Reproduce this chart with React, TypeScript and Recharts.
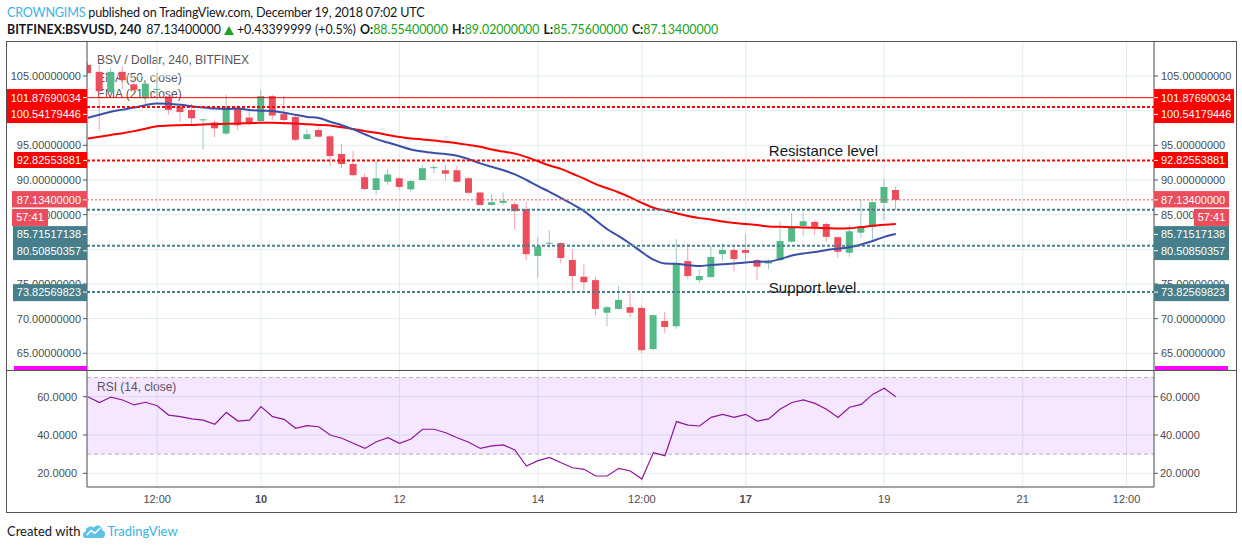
import React from "react";
import {
  Bar,
  CartesianGrid,
  ComposedChart,
  Line,
  ReferenceArea,
  ReferenceDot,
  ReferenceLine,
  XAxis,
  YAxis,
} from "recharts";

// BSV/USD 4h candles, Dec 7 12:00 -> Dec 19 04:00 (UTC)
const OPEN = [
  106.6, 105.6, 102.7, 105.6, 103.8, 101.8, 103.0, 102.0, 100.6, 100.1,
  98.6, 98.3, 96.7, 100.4, 99.0, 98.5, 102.1, 99.5, 99.1, 95.9,
  97.2, 96.3, 93.75, 92.3, 90.4, 88.55, 89.75, 90.25, 88.65, 90.0,
  91.7, 91.4, 91.4, 90.25, 88.2, 86.4, 86.7, 86.5, 85.8, 79.05,
  80.85, 80.9, 78.45, 76.05, 75.55, 70.85, 71.4, 71.65, 71.55, 65.6,
  69.65, 68.9, 78.3, 75.55, 76.0, 79.3, 79.9, 79.9, 78.45, 77.95,
  78.45, 81.1, 83.35, 83.95, 83.65, 81.75, 79.5, 82.4, 83.25, 86.7,
  88.554,
];
const HIGH = [
  107.0, 106.6, 106.2, 106.4, 104.6, 104.2, 104.3, 102.5, 101.0, 101.0,
  98.8, 98.6, 102.3, 100.8, 100.1, 103.0, 102.3, 102.1, 99.3, 97.3,
  97.6, 96.5, 95.2, 94.2, 90.9, 92.8, 91.6, 90.4, 90.0, 92.2,
  92.2, 92.2, 92.0, 90.4, 88.3, 87.95, 88.2, 86.85, 86.85, 81.8,
  82.7, 81.0, 80.0, 77.9, 76.05, 71.8, 74.7, 73.95, 71.95, 70.6,
  71.0, 81.5, 80.85, 77.0, 80.5, 80.85, 80.4, 82.2, 78.6, 78.55,
  84.05, 85.25, 85.25, 84.2, 83.8, 81.9, 83.5, 87.2, 86.9, 90.15,
  89.02,
];
const LOW = [
  105.2, 97.1, 102.4, 103.1, 102.5, 100.3, 101.6, 99.4, 98.4, 97.8,
  94.4, 96.2, 96.5, 97.2, 97.9, 98.3, 98.7, 98.4, 95.6, 95.8,
  96.1, 92.0, 91.7, 90.5, 88.6, 87.8, 89.3, 88.6, 88.2, 89.9,
  91.0, 89.9, 89.6, 88.0, 86.3, 86.3, 86.4, 82.9, 78.45, 75.9,
  80.15, 78.0, 74.1, 74.1, 70.5, 68.9, 71.3, 70.25, 65.05, 65.5,
  67.95, 68.5, 75.7, 75.15, 75.9, 78.35, 76.85, 78.0, 75.55, 77.1,
  78.4, 81.0, 81.95, 82.05, 81.1, 78.8, 78.95, 81.65, 81.25, 84.2,
  85.756,
];
const CLOSE = [
  105.4, 102.8, 105.6, 104.4, 103.0, 103.9, 103.15, 100.1, 99.8, 98.9,
  98.75, 97.45, 100.6, 97.9, 98.2, 102.1, 99.3, 98.65, 95.8, 96.6,
  96.25, 93.45, 92.3, 90.7, 88.7, 90.25, 90.8, 89.0, 89.85, 91.7,
  91.85, 90.9, 89.75, 88.15, 86.4, 86.8, 87.0, 85.5, 79.3, 80.4,
  80.95, 78.75, 76.15, 75.25, 71.4, 71.65, 72.7, 70.85, 65.45, 70.5,
  68.8, 77.95, 76.15, 76.15, 78.9, 79.9, 78.6, 79.5, 77.5, 78.2,
  81.2, 83.15, 84.05, 83.25, 81.8, 79.65, 82.6, 83.35, 86.8, 89.0,
  87.134,
];
const EMA21 = [
  98.98, 99.4, 99.85, 100.15, 100.45, 100.8, 101.05, 101.0, 100.85, 100.65,
  100.45, 100.3, 100.25, 100.3, 100.1, 100.0, 99.95, 99.7, 99.4, 99.1,
  98.95, 98.4, 97.9, 97.3, 96.6, 95.9, 95.4, 94.9, 94.4, 94.1,
  93.9, 93.75, 93.5, 93.0, 92.4, 91.9, 91.4, 90.8, 90.0, 89.1,
  88.3, 87.4, 86.5, 85.5, 84.2, 82.9, 81.9, 80.8, 79.6, 78.5,
  77.95, 77.9, 77.7, 77.6, 77.75, 77.85, 77.95, 78.1, 78.2, 78.25,
  78.6, 79.1, 79.4, 79.6, 79.9, 80.1, 80.3, 80.7, 81.2, 81.8,
  82.2,
];
const EMA50 = [
  96.0, 96.25, 96.5, 96.75, 97.05, 97.4, 97.75, 97.85, 97.9, 97.95,
  98.0, 98.05, 98.1, 98.15, 98.2, 98.25, 98.25, 98.2, 98.15, 98.05,
  97.95, 97.85, 97.6, 97.35, 97.05, 96.8, 96.5, 96.2, 96.0, 95.85,
  95.7, 95.5, 95.3, 95.05, 94.8, 94.4, 94.1, 93.8, 93.3, 92.7,
  92.1, 91.6, 90.9, 90.2, 89.4, 88.8, 88.2, 87.5, 86.7, 86.0,
  85.6, 85.2, 84.8, 84.5, 84.3, 84.0, 83.8, 83.65, 83.5, 83.3,
  83.25, 83.2, 83.15, 83.1, 83.05, 83.0, 83.05, 83.2, 83.4, 83.55,
  83.65,
];
const RSI = [
  60.0, 56.9, 59.8, 58.3, 55.7, 57.1, 55.3, 50.4, 49.6, 48.4,
  47.8, 45.6, 51.8, 47.3, 47.8, 54.8, 49.6, 48.2, 43.5, 44.9,
  44.3, 40.0, 38.3, 35.7, 33.0, 36.5, 38.6, 35.7, 37.9, 43.0,
  43.0, 41.2, 38.6, 36.2, 33.0, 34.3, 34.8, 32.2, 23.8, 26.6,
  28.3, 25.5, 22.9, 22.1, 18.6, 18.6, 22.6, 21.2, 17.0, 30.8,
  29.2, 47.0, 45.2, 44.7, 49.2, 50.8, 49.2, 50.8, 47.3, 48.4,
  53.6, 57.0, 58.3, 56.5, 53.4, 49.2, 54.5, 56.0, 61.2, 64.4,
  60.0,
];

// hours since Dec 8 00:00, one candle every 4h
const HOURS = OPEN.map((_, i) => -12 + 4 * i);

const X_DOMAIN = [-12.31, 357.5];
const X_TICKS = [12, 48, 96, 144, 180, 216, 264, 312, 348];
const X_LABELS = ["12:00", "10", "12", "14", "12:00", "17", "19", "21", "12:00"];
const BOLD_LABELS = ["10", "17"];

const PRICE_DOMAIN = [62.59, 110.05];
const PRICE_TICKS = [65, 70, 75, 80, 85, 90, 95, 100, 105];
const RSI_DOMAIN = [12.85, 73.94];
const RSI_TICKS = [20, 40, 60];

// drawn levels
const TOP_LINE = 101.87690034;
const UPPER_LINE = 100.54179446;
const RESISTANCE = 92.82553881;
const LAST_PRICE = 87.134;
const TEAL_HIGH = 85.71517138;
const TEAL_MID = 80.50850357;
const SUPPORT = 73.82569823;

const ANNOTATIONS = [
  { t: 224, price: 94.18, text: "Resistance level" },
  { t: 224, price: 74.42, text: "Support level" },
];

const FONT = '"Liberation Sans", Arial, sans-serif';
const HEAD_FONT = 'Lato, "Liberation Sans", sans-serif';
const UP = "#53b987";
const DOWN = "#eb4d5c";
const WICK_UP = "#9fc6cb";
const WICK_DOWN = "#f3a0aa";
const GRID = "#e1ecf2";
const AXIS = "#555555";
const TICK = "#4c4c4c";
const RED = "#ff0000";
const TEAL = "#467f8b";
const GREEN_TXT = "#21a121";

const rows = HOURS.map((t, i) => ({
  t,
  range: [LOW[i], HIGH[i]],
  o: OPEN[i],
  h: HIGH[i],
  l: LOW[i],
  c: CLOSE[i],
  ema21: EMA21[i],
  ema50: EMA50[i],
  rsi: RSI[i],
}));

function Candle(props: any) {
  const { x, y, width, height, payload } = props;
  if (!payload || width == null) return null;
  const top = Math.min(y, y + height);
  const ht = Math.abs(height);
  const { o, c, h, l } = payload;
  const up = c >= o;
  const py = (v: number) => top + ((h - v) / (h - l)) * ht;
  const b0 = py(Math.max(o, c));
  const b1 = py(Math.min(o, c));
  const cx = x + width / 2;
  return (
    <g>
      <line x1={cx} x2={cx} y1={top} y2={top + ht} stroke={up ? WICK_UP : WICK_DOWN} strokeWidth={1} />
      <rect x={x} y={b0} width={width} height={Math.max(1, b1 - b0)} fill={up ? UP : DOWN} />
    </g>
  );
}

type TagText = { s: string; dy: number };
type TagSpec = {
  price: number;
  fill: string;
  top: number;
  bottom: number;
  lw: number;
  rw: number;
  texts: TagText[];
  timer?: string;
};

const TAGS: TagSpec[] = [
  {
    price: TOP_LINE,
    fill: RED,
    top: -8.6,
    bottom: 25.4,
    lw: 80,
    rw: 80,
    texts: [
      { s: "101.87690034", dy: 0 },
      { s: "100.54179446", dy: 16.7 },
    ],
  },
  { price: RESISTANCE, fill: RED, top: -8.4, bottom: 7.6, lw: 73, rw: 74, texts: [{ s: "92.82553881", dy: 0 }] },
  {
    price: LAST_PRICE,
    fill: DOWN,
    top: -8.8,
    bottom: 7.6,
    lw: 75,
    rw: 75,
    texts: [{ s: "87.13400000", dy: 0 }],
    timer: "57:41",
  },
  {
    price: TEAL_HIGH,
    fill: TEAL,
    top: 16.4,
    bottom: 50.4,
    lw: 74,
    rw: 75,
    texts: [
      { s: "85.71517138", dy: 24.7 },
      { s: "80.50850357", dy: 41.1 },
    ],
  },
  { price: SUPPORT, fill: TEAL, top: -8, bottom: 9, lw: 74, rw: 75, texts: [{ s: "73.82569823", dy: 0 }] },
];

// price tags on both axes, positioned from the line the library placed
function tagLabel(spec: TagSpec) {
  return function TagLabel(props: any) {
    const vb = props.viewBox;
    if (!vb) return null;
    const y = vb.y;
    const x0 = vb.x;
    const x1 = vb.x + vb.width;
    const h = spec.bottom - spec.top;
    return (
      <g fontFamily={FONT} fontSize={11}>
        <rect x={x0 - spec.lw} y={y + spec.top} width={spec.lw} height={h} fill={spec.fill} />
        <rect x={x1} y={y + spec.top} width={spec.rw} height={h} fill={spec.fill} />
        {spec.texts.map((tt) => (
          <g key={tt.s}>
            <line x1={x0 - 4} x2={x0} y1={y + tt.dy} y2={y + tt.dy} stroke="#fff" />
            <line x1={x1} x2={x1 + 4} y1={y + tt.dy} y2={y + tt.dy} stroke="#fff" />
            <text x={x0 - 6} y={y + tt.dy} dy="0.36em" textAnchor="end" fill="#fff">
              {tt.s}
            </text>
            <text x={x1 + 7} y={y + tt.dy} dy="0.36em" textAnchor="start" fill="#fff">
              {tt.s}
            </text>
          </g>
        ))}
        {spec.timer && (
          <g>
            <rect x={x0 - spec.lw} y={y + spec.bottom + 1.5} width={36} height={17} fill={spec.fill} />
            <rect x={x1 + spec.rw - 35} y={y + spec.bottom + 1.5} width={35} height={17} fill={spec.fill} />
            <text x={x0 - spec.lw + 18} y={y + spec.bottom + 10} dy="0.36em" textAnchor="middle" fill="#fff">
              {spec.timer}
            </text>
            <text x={x1 + spec.rw - 17.5} y={y + spec.bottom + 10} dy="0.36em" textAnchor="middle" fill="#fff">
              {spec.timer}
            </text>
          </g>
        )}
      </g>
    );
  };
}

function noteLabel(text: string) {
  return function NoteLabel(props: any) {
    const vb = props.viewBox;
    if (!vb) return null;
    return (
      <text x={vb.x} y={vb.y} dy="0.36em" fill="#131722" fontSize={15} fontFamily={FONT}>
        {text}
      </text>
    );
  };
}

function TimeTick(props: any) {
  const { x, y, payload } = props;
  const i = X_TICKS.indexOf(payload.value);
  const label = X_LABELS[i] ?? "";
  return (
    <text
      x={x}
      y={y}
      dy="0.71em"
      textAnchor="middle"
      fill={TICK}
      fontSize={11}
      fontFamily={FONT}
      fontWeight={BOLD_LABELS.includes(label) ? 700 : 400}
    >
      {label}
    </text>
  );
}

const tickStyle = { fill: TICK, fontSize: 11, fontFamily: FONT };

function PriceChart() {
  return (
    <ComposedChart width={1230} height={329} data={rows} margin={{ top: 0, right: 0, bottom: 0, left: 0 }}>
      <CartesianGrid yAxisId="l" stroke={GRID} />
      <XAxis dataKey="t" type="number" domain={X_DOMAIN} ticks={X_TICKS} hide allowDataOverflow />
      <YAxis
        yAxisId="l"
        orientation="left"
        width={81}
        domain={PRICE_DOMAIN}
        ticks={PRICE_TICKS}
        allowDataOverflow
        tickFormatter={(v: number) => v.toFixed(8)}
        tick={tickStyle}
        tickSize={4}
        tickMargin={2}
        tickLine={{ stroke: AXIS }}
        axisLine={{ stroke: AXIS }}
        interval={0}
      />
      <YAxis
        yAxisId="r"
        orientation="right"
        width={82}
        domain={PRICE_DOMAIN}
        ticks={PRICE_TICKS}
        allowDataOverflow
        tickFormatter={(v: number) => v.toFixed(8)}
        tick={tickStyle}
        tickSize={4}
        tickMargin={3}
        tickLine={{ stroke: AXIS }}
        axisLine={{ stroke: AXIS }}
        interval={0}
      />
      <Bar yAxisId="l" dataKey="range" barSize={7} shape={Candle} isAnimationActive={false} />
      <Line yAxisId="l" type="monotone" dataKey="ema50" stroke={RED} strokeWidth={2} dot={false} isAnimationActive={false} />
      <Line yAxisId="l" type="monotone" dataKey="ema21" stroke="#3c4fa8" strokeWidth={2} dot={false} isAnimationActive={false} />

      <ReferenceLine yAxisId="l" y={TOP_LINE} stroke={RED} strokeWidth={1} />
      <ReferenceLine yAxisId="l" y={UPPER_LINE} stroke={RED} strokeWidth={2} strokeDasharray="3 2" />
      <ReferenceLine yAxisId="l" y={RESISTANCE} stroke={RED} strokeWidth={2} strokeDasharray="3 2" />
      <ReferenceLine yAxisId="l" y={LAST_PRICE} stroke={DOWN} strokeWidth={1} strokeDasharray="2 2" />
      <ReferenceLine yAxisId="l" y={TEAL_HIGH} stroke={TEAL} strokeWidth={2} strokeDasharray="3 2" />
      <ReferenceLine yAxisId="l" y={TEAL_MID} stroke={TEAL} strokeWidth={2} strokeDasharray="3 2" />
      <ReferenceLine yAxisId="l" y={SUPPORT} stroke={TEAL} strokeWidth={2} strokeDasharray="3 2" />
      {ANNOTATIONS.map((a) => (
        <ReferenceDot
          key={a.text}
          yAxisId="l"
          x={a.t}
          y={a.price}
          r={0}
          fill="none"
          stroke="none"
          label={noteLabel(a.text)}
        />
      ))}
    </ComposedChart>
  );
}

// second layer on the same scales, so the axis tags cover the tick labels
function TagLayer() {
  return (
    <ComposedChart width={1230} height={329} data={rows} margin={{ top: 0, right: 0, bottom: 0, left: 0 }}>
      <XAxis dataKey="t" type="number" domain={X_DOMAIN} hide allowDataOverflow />
      <YAxis yAxisId="l" orientation="left" width={81} domain={PRICE_DOMAIN} allowDataOverflow tick={false} tickLine={false} axisLine={false} />
      <YAxis yAxisId="r" orientation="right" width={82} domain={PRICE_DOMAIN} allowDataOverflow tick={false} tickLine={false} axisLine={false} />
      {TAGS.map((tag) => (
        <ReferenceLine key={tag.price} yAxisId="l" y={tag.price} stroke="none" label={tagLabel(tag)} />
      ))}
    </ComposedChart>
  );
}

function RsiChart() {
  return (
    <ComposedChart width={1230} height={142} data={rows} margin={{ top: 0, right: 0, bottom: 0, left: 0 }}>
      <CartesianGrid yAxisId="l" stroke={GRID} />
      <XAxis
        dataKey="t"
        type="number"
        domain={X_DOMAIN}
        ticks={X_TICKS}
        allowDataOverflow
        height={25}
        interval={0}
        tick={TimeTick}
        tickLine={false}
        tickSize={0}
        tickMargin={8}
        axisLine={{ stroke: AXIS }}
      />
      <YAxis
        yAxisId="l"
        orientation="left"
        width={81}
        domain={RSI_DOMAIN}
        ticks={RSI_TICKS}
        allowDataOverflow
        tickFormatter={(v: number) => v.toFixed(4)}
        tick={tickStyle}
        tickSize={4}
        tickMargin={6}
        tickLine={{ stroke: AXIS }}
        axisLine={{ stroke: AXIS }}
        interval={0}
      />
      <YAxis
        yAxisId="r"
        orientation="right"
        width={82}
        domain={RSI_DOMAIN}
        ticks={RSI_TICKS}
        allowDataOverflow
        tickFormatter={(v: number) => v.toFixed(4)}
        tick={tickStyle}
        tickSize={4}
        tickMargin={2}
        tickLine={{ stroke: AXIS }}
        axisLine={{ stroke: AXIS }}
        interval={0}
      />
      <ReferenceArea yAxisId="l" y1={30} y2={70} fill="#9915ff" fillOpacity={0.1} stroke="none" />
      <ReferenceLine yAxisId="l" y={70} stroke="#b9b1c0" strokeDasharray="4 3" />
      <ReferenceLine yAxisId="l" y={30} stroke="#b9b1c0" strokeDasharray="4 3" />
      <Line yAxisId="l" type="linear" dataKey="rsi" stroke="#8e1599" strokeWidth={1.2} dot={false} isAnimationActive={false} />
    </ComposedChart>
  );
}

const abs = (left: number, top: number, extra: React.CSSProperties = {}): React.CSSProperties => ({
  position: "absolute",
  left,
  top,
  ...extra,
});

export default function App() {
  const legend: React.CSSProperties = { fontFamily: FONT, fontSize: 12, color: "#555", lineHeight: "14px", whiteSpace: "nowrap" };
  const head: React.CSSProperties = { fontFamily: HEAD_FONT, fontSize: 12.4, lineHeight: "17px", color: "#131722", whiteSpace: "nowrap" };
  return (
    <div style={{ position: "absolute", left: 0, top: 0, width: 1242, height: 549, background: "#fff", overflow: "hidden" }}>
      {/* header */}
      <div style={abs(7, 4, { ...head, fontSize: 12.6, letterSpacing: "-0.2px" })}>
        <span style={{ color: "#3bb3e4" }}>CROWNGIMS</span> published on TradingView.com, December 19, 2018 07:02 UTC
      </div>
      <div style={abs(7, 21, head)}>
        <b>BITFINEX:BSVUSD, 240</b>
        <span style={{ marginLeft: 5 }}>87.13400000</span>
        <svg width="10" height="9" style={{ marginLeft: 3, marginRight: 3, verticalAlign: "-1px" }}>
          <polygon points="5,0 10,9 0,9" fill={GREEN_TXT} />
        </svg>
        <span>+0.43399999 (+0.5%)</span>
        <b style={{ marginLeft: 4 }}>O:</b>
        <span style={{ color: GREEN_TXT }}>88.55400000</span>
        <b style={{ marginLeft: 4 }}>H:</b>
        <span style={{ color: GREEN_TXT }}>89.02000000</span>
        <b style={{ marginLeft: 4 }}>L:</b>
        <span style={{ color: GREEN_TXT }}>85.75600000</span>
        <b style={{ marginLeft: 4 }}>C:</b>
        <span style={{ color: GREEN_TXT }}>87.13400000</span>
      </div>

      {/* pane legends (under the series) */}
      <div style={abs(97, 53, legend)}>BSV / Dollar, 240, BITFINEX</div>
      <div style={abs(97, 71, legend)}>EMA (50, close)</div>
      <div style={abs(97, 87, legend)}>EMA (21, close)</div>
      <div style={abs(97, 380, legend)}>RSI (14, close)</div>

      <div style={abs(6, 41)}>
        <PriceChart />
      </div>
      <div style={abs(6, 41)}>
        <TagLayer />
      </div>
      <div style={abs(6, 370)}>
        <RsiChart />
      </div>

      {/* frame */}
      <div style={abs(6, 41, { width: 1231, height: 472, border: `1px solid ${AXIS}`, boxSizing: "border-box", pointerEvents: "none" })} />
      <div style={abs(6, 370, { width: 1231, height: 1, background: AXIS })} />
      <div style={abs(14, 366, { width: 73, height: 4, background: "#ff00ff" })} />
      <div style={abs(1155, 366, { width: 73, height: 4, background: "#ff00ff" })} />

      {/* footer */}
      <div style={abs(7, 522, { fontFamily: HEAD_FONT, fontSize: 13, lineHeight: "18px", color: "#131722", whiteSpace: "nowrap", display: "flex", alignItems: "center" })}>
        <span>Created with</span>
        <svg width="24" height="17" viewBox="0 0 26 18" style={{ marginLeft: 2, marginRight: 1 }}>
          <path d="M4 16 C0 16 0 10 4 9 C4 4 10 2 13 5 C15 1 22 2 22 8 C26 8 26 16 22 16 Z" fill="#5fc0e8" />
          <path d="M5 13 L10 8 L14 11 L20 5" stroke="#fff" strokeWidth="1.6" fill="none" />
        </svg>
        <span style={{ color: "#3bb3e4" }}>TradingView</span>
      </div>
    </div>
  );
}
